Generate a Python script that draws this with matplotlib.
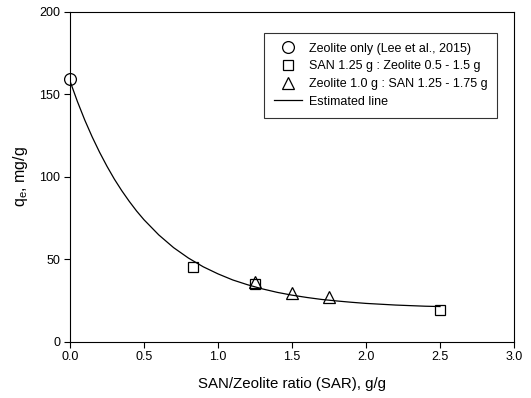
import matplotlib
matplotlib.use('Agg')
import matplotlib.pyplot as plt

plt.rcParams['font.family'] = ['Liberation Sans', 'DejaVu Sans']
plt.rcParams['mathtext.fontset'] = 'custom'
plt.rcParams['mathtext.rm'] = 'Liberation Sans'
plt.rcParams['mathtext.it'] = 'Liberation Sans:italic'

# data
zeolite_x = [0.0]
zeolite_y = [159.0]

san_fixed_x = [0.833, 1.25, 2.5]
san_fixed_y = [45.0, 35.0, 19.0]

zeo_fixed_x = [1.25, 1.5, 1.75]
zeo_fixed_y = [36.0, 29.5, 27.0]

# estimated line, points
est_x = [0.0, 0.05, 0.1, 0.15, 0.2, 0.25, 0.3, 0.35, 0.4, 0.45, 0.5, 0.6, 0.7,
         0.8, 0.9, 1.0, 1.1, 1.2, 1.3, 1.4, 1.5, 1.6, 1.7, 1.8, 1.9, 2.0,
         2.2, 2.4, 2.5]
est_y = [158.0, 145.6, 134.3, 124.1, 114.8, 106.3, 98.5, 91.5, 85.1, 79.2, 73.9,
         64.7, 57.0, 50.7, 45.4, 41.1, 37.4, 34.5, 32.0, 29.9, 28.2, 26.8,
         25.6, 24.7, 23.9, 23.2, 22.2, 21.5, 21.3]

fig = plt.figure(figsize=(5.31, 3.98), dpi=100)
ax = fig.add_axes([0.1318, 0.1415, 0.8362, 0.8291])

ax.plot(zeolite_x, zeolite_y, linestyle='none', marker='o', markersize=8.5,
        markerfacecolor='none', markeredgecolor='black', markeredgewidth=0.9,
        label='Zeolite only (Lee et al., 2015)', clip_on=False, zorder=3)
ax.plot(san_fixed_x, san_fixed_y, linestyle='none', marker='s', markersize=7.5,
        markerfacecolor='none', markeredgecolor='black', markeredgewidth=0.9,
        label='SAN 1.25 g : Zeolite 0.5 - 1.5 g', zorder=3)
ax.plot(zeo_fixed_x, zeo_fixed_y, linestyle='none', marker='^', markersize=8.5,
        markerfacecolor='none', markeredgecolor='black', markeredgewidth=0.9,
        label='Zeolite 1.0 g : SAN 1.25 - 1.75 g', zorder=3)
ax.plot(est_x, est_y, color='black', linewidth=0.9, label='Estimated line', zorder=2)

ax.set_xlim(0, 3.0)
ax.set_ylim(0, 200)
ax.set_xticks([0.0, 0.5, 1.0, 1.5, 2.0, 2.5, 3.0])
ax.set_xticklabels(['0.0', '0.5', '1.0', '1.5', '2.0', '2.5', '3.0'])
ax.set_yticks([0, 50, 100, 150, 200])

ax.tick_params(direction='out', length=4, width=0.8, labelsize=9,
               top=False, right=False, pad=3)
for s in ax.spines.values():
    s.set_linewidth(0.8)

ax.set_xlabel('SAN/Zeolite ratio (SAR), g/g', fontsize=10.8, labelpad=10)
ax.set_ylabel(r'q$_\mathrm{e}$, mg/g', fontsize=11.5, labelpad=7)

leg = ax.legend(loc='upper right', bbox_to_anchor=(0.962, 0.936), fontsize=9,
                frameon=True, fancybox=False, edgecolor='black',
                borderpad=0.8, handlelength=2.2, handletextpad=0.55,
                labelspacing=0.45, borderaxespad=0)
leg.get_frame().set_linewidth(0.8)

fig.savefig('out.png', dpi=100)
